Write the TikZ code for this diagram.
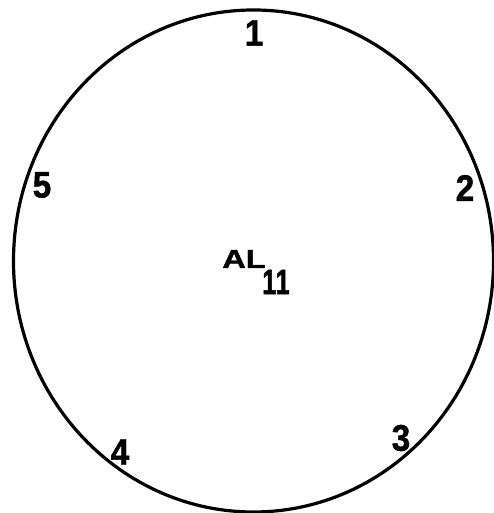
\documentclass[tikz,border=0pt]{standalone}
\usepackage{fontspec}
\setmainfont{Liberation Sans}
\newfontfamily\digfont[FakeStretch=0.9,FakeBold=1.2]{Liberation Sans}
\newfontfamily\widefont[FakeStretch=1.25,FakeBold=1.5]{Liberation Sans}
\newfontfamily\narrowfont[FakeStretch=0.72,FakeBold=1.5]{Liberation Sans}
\usetikzlibrary{shapes.geometric}
\begin{document}
\begin{tikzpicture}[x=1pt,y=1pt,
  lbl/.style={font=\digfont\fontsize{37}{37}\selectfont\bfseries, inner sep=0pt},
  rim/.style={line width=3.2pt}]
\useasboundingbox (0,0) rectangle (494,513);
\node[rim, draw, ellipse, minimum width=480, minimum height=502, inner sep=0pt] (rimshape) at (253.5,252) {};
\node[lbl] (n1) at (254,480) {1};
\node[lbl] (n2) at (465,325) {2};
\node[lbl] (n3) at (401,75) {3};
\node[lbl] (n4) at (120,61) {4};
\node[lbl] (n5) at (42,328) {5};
\node[font=\widefont\fontsize{26}{26}\selectfont\bfseries, inner sep=0pt] (al) at (244,254) {AL};
\node[font=\narrowfont\fontsize{35}{35}\selectfont\bfseries, inner sep=0pt] (sub) at (276,231) {1\kern-0.02em1};
\end{tikzpicture}
\end{document}
